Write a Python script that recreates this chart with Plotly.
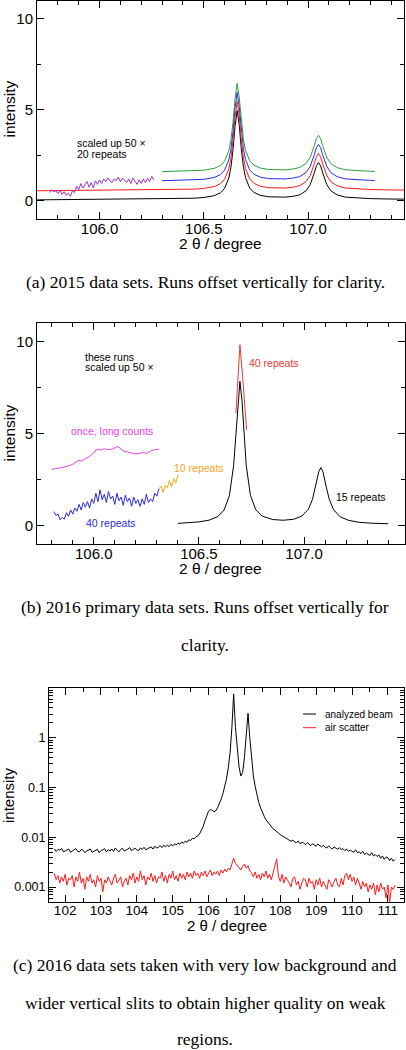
import plotly.graph_objects as go

# ---------------- panel (a): 2015 data sets ----------------
x_a = [105.70, 106.00, 106.30, 106.40, 106.45, 106.50, 106.55, 106.58, 106.60, 106.62,
       106.63, 106.64, 106.65, 106.66, 106.67, 106.68, 106.69, 106.70, 106.72, 106.74,
       106.77, 106.81, 106.85, 106.89, 106.93, 106.96, 106.99, 107.01, 107.03, 107.04,
       107.05, 107.06, 107.07, 107.09, 107.11, 107.14, 107.18, 107.24, 107.30, 107.38, 107.46]
black_a = [0.05, 0.08, 0.10, 0.12, 0.14, 0.18, 0.28, 0.44, 0.69, 1.26,
           1.84, 2.80, 4.14, 4.95, 4.15, 2.81, 1.85, 1.27, 0.70, 0.46,
           0.30, 0.22, 0.20, 0.20, 0.25, 0.33, 0.55, 0.88, 1.54, 1.92,
           2.10, 1.92, 1.53, 0.88, 0.54, 0.32, 0.20, 0.14, 0.12, 0.10, 0.09]
red_a = [0.55, 0.58, 0.60, 0.62, 0.64, 0.68, 0.78, 0.94, 1.19, 1.76,
         2.34, 3.30, 4.64, 5.45, 4.65, 3.31, 2.35, 1.77, 1.20, 0.96,
         0.80, 0.72, 0.70, 0.70, 0.75, 0.83, 1.05, 1.38, 2.04, 2.42,
         2.60, 2.42, 2.03, 1.38, 1.04, 0.82, 0.70, 0.64, 0.62, 0.60, 0.59]
x_a_short = [106.30, 106.40, 106.45, 106.50, 106.55, 106.58, 106.60, 106.62, 106.63, 106.64,
             106.65, 106.66, 106.67, 106.68, 106.69, 106.70, 106.72, 106.74, 106.77, 106.81,
             106.85, 106.89, 106.93, 106.96, 106.99, 107.01, 107.03, 107.04, 107.05, 107.06,
             107.07, 107.09, 107.11, 107.14, 107.18, 107.24, 107.30, 107.32]
blue_a = [1.10, 1.12, 1.14, 1.18, 1.28, 1.44, 1.69, 2.26, 2.84, 3.80,
          5.14, 5.95, 5.15, 3.81, 2.85, 2.27, 1.70, 1.46, 1.30, 1.22,
          1.20, 1.20, 1.25, 1.33, 1.55, 1.88, 2.54, 2.92, 3.10, 2.92,
          2.53, 1.88, 1.54, 1.32, 1.20, 1.14, 1.12, 1.11]
green_a = [1.60, 1.62, 1.64, 1.68, 1.78, 1.94, 2.19, 2.76, 3.34, 4.30,
           5.64, 6.45, 5.65, 4.31, 3.35, 2.77, 2.20, 1.96, 1.80, 1.72,
           1.70, 1.70, 1.75, 1.83, 2.05, 2.38, 3.04, 3.42, 3.60, 3.42,
           3.03, 2.38, 2.04, 1.82, 1.70, 1.64, 1.62, 1.61]
x_a_weak = [105.76, 105.77, 105.78, 105.79, 105.80, 105.81, 105.82, 105.83, 105.84, 105.85,
            105.86, 105.87, 105.88, 105.89, 105.90, 105.91, 105.92, 105.93, 105.94, 105.95,
            105.96, 105.97, 105.98, 105.99, 106.00, 106.01, 106.02, 106.03, 106.04, 106.05,
            106.06, 106.07, 106.08, 106.09, 106.10, 106.11, 106.12, 106.13, 106.14, 106.15,
            106.16, 106.17, 106.18, 106.19, 106.20, 106.21, 106.22, 106.23, 106.24, 106.25, 106.26]
purple_a = [0.45, 0.60, 0.50, 0.55, 0.40, 0.58, 0.35, 0.50, 0.30, 0.42,
            0.25, 0.55, 0.45, 0.80, 0.60, 0.95, 0.70, 0.85, 1.05, 0.75,
            1.00, 0.70, 1.10, 0.90, 1.15, 0.95, 1.20, 1.05, 1.25, 1.10,
            1.00, 1.20, 1.10, 1.30, 1.05, 1.25, 1.15, 1.00, 1.20, 0.95,
            1.25, 1.05, 0.90, 1.15, 0.95, 1.20, 1.00, 1.25, 1.05, 1.35, 1.15]

# ---------------- panel (b): 2016 primary data sets ----------------
x_b_black = [106.40, 106.45, 106.50, 106.55, 106.59, 106.62, 106.645, 106.665, 106.675, 106.685,
             106.695, 106.705, 106.715, 106.725, 106.745, 106.77, 106.80, 106.85, 106.90, 106.95,
             106.99, 107.02, 107.04, 107.055, 107.07, 107.08, 107.09, 107.105, 107.12, 107.14,
             107.17, 107.21, 107.26, 107.32, 107.40]
black_b = [0.12, 0.15, 0.20, 0.30, 0.49, 0.85, 1.63, 3.26, 4.81, 6.76,
           7.83, 6.77, 4.82, 3.27, 1.64, 0.87, 0.52, 0.33, 0.29, 0.34,
           0.52, 0.88, 1.42, 2.12, 2.92, 3.15, 2.92, 2.12, 1.42, 0.87,
           0.49, 0.29, 0.18, 0.13, 0.10]
x_b_red = [106.676, 106.685, 106.695, 106.705, 106.715, 106.727]
red_b = [6.10, 8.00, 9.82, 8.50, 7.00, 5.20]
x_b_magenta = [105.80, 105.82, 105.84, 105.86, 105.88, 105.90, 105.92, 105.93, 105.94, 105.96,
               105.98, 106.00, 106.01, 106.02, 106.03, 106.05, 106.07, 106.09, 106.11, 106.12,
               106.14, 106.16, 106.18, 106.20, 106.22, 106.24, 106.25, 106.27, 106.29, 106.31]
magenta_b = [3.05, 3.08, 3.12, 3.18, 3.24, 3.33, 3.48, 3.55, 3.50, 3.62,
             3.75, 3.95, 4.10, 4.15, 4.10, 4.17, 4.12, 4.16, 4.28, 4.25,
             4.05, 4.00, 3.92, 3.88, 3.93, 3.98, 3.90, 4.05, 4.12, 4.15]
x_b_blue = [105.81, 105.82, 105.83, 105.84, 105.85, 105.86, 105.87, 105.88, 105.89, 105.90,
            105.91, 105.92, 105.93, 105.94, 105.95, 105.96, 105.97, 105.98, 105.99, 106.00,
            106.01, 106.02, 106.03, 106.04, 106.05, 106.06, 106.07, 106.08, 106.09, 106.10,
            106.11, 106.12, 106.13, 106.14, 106.15, 106.16, 106.17, 106.18, 106.19, 106.20,
            106.21, 106.22, 106.23, 106.24, 106.25, 106.26, 106.27, 106.28, 106.29, 106.30, 106.31]
blue_b = [0.76, 0.55, 0.62, 0.31, 0.45, 0.35, 0.70, 0.50, 0.85, 0.62,
          0.95, 0.78, 1.15, 0.85, 1.25, 1.00, 1.30, 0.95, 1.45, 1.20,
          1.75, 1.30, 1.94, 1.40, 1.70, 1.25, 1.85, 1.45, 1.60, 1.15,
          1.75, 1.35, 1.55, 1.10, 1.65, 1.30, 1.50, 1.05, 1.55, 1.20,
          1.40, 1.05, 1.45, 1.15, 1.70, 1.25, 1.45, 1.30, 1.75, 1.60, 2.00]
x_b_orange = [106.31, 106.32, 106.33, 106.34, 106.35, 106.36, 106.37, 106.38, 106.39, 106.40]
orange_b = [2.00, 2.15, 1.80, 2.20, 2.05, 2.45, 2.10, 2.55, 2.30, 2.75]

# ---------------- panel (c): low background, wide slits ----------------
x_c = [101.70, 101.75, 101.80, 101.85, 101.90, 101.95, 102.00, 102.05, 102.10, 102.15,
       102.20, 102.25, 102.30, 102.35, 102.40, 102.45, 102.50, 102.55, 102.60, 102.65,
       102.70, 102.75, 102.80, 102.85, 102.90, 102.95, 103.00, 103.05, 103.10, 103.15,
       103.20, 103.25, 103.30, 103.35, 103.40, 103.45, 103.50, 103.55, 103.60, 103.65,
       103.70, 103.75, 103.80, 103.85, 103.90, 103.95, 104.00, 104.05, 104.10, 104.15,
       104.20, 104.25, 104.30, 104.35, 104.40, 104.45, 104.50, 104.55, 104.60, 104.65,
       104.70, 104.75, 104.80, 104.85, 104.90, 104.95, 105.00, 105.05, 105.10, 105.15,
       105.20, 105.25, 105.30, 105.35, 105.40, 105.45, 105.50, 105.55, 105.60, 105.65,
       105.70, 105.75, 105.80, 105.85, 105.90, 105.95, 106.00, 106.05, 106.10, 106.15,
       106.20, 106.25, 106.30, 106.35, 106.40, 106.45, 106.50, 106.55, 106.60, 106.65,
       106.70, 106.75, 106.80, 106.85, 106.90, 106.95, 107.00, 107.05, 107.10, 107.15,
       107.20, 107.25, 107.30, 107.35, 107.40, 107.45, 107.50, 107.55, 107.60, 107.65,
       107.70, 107.75, 107.80, 107.85, 107.90, 107.95, 108.00, 108.05, 108.10, 108.15,
       108.20, 108.25, 108.30, 108.35, 108.40, 108.45, 108.50, 108.55, 108.60, 108.65,
       108.70, 108.75, 108.80, 108.85, 108.90, 108.95, 109.00, 109.05, 109.10, 109.15,
       109.20, 109.25, 109.30, 109.35, 109.40, 109.45, 109.50, 109.55, 109.60, 109.65,
       109.70, 109.75, 109.80, 109.85, 109.90, 109.95, 110.00, 110.05, 110.10, 110.15,
       110.20, 110.25, 110.30, 110.35, 110.40, 110.45, 110.50, 110.55, 110.60, 110.65,
       110.70, 110.75, 110.80, 110.85, 110.90, 110.95, 111.00, 111.05, 111.10, 111.15,
       111.20]
analyzed_c = [0.0058, 0.0052, 0.0057, 0.0055, 0.0060, 0.0051, 0.0053, 0.0056, 0.0058, 0.0050,
              0.0054, 0.0056, 0.0059, 0.0052, 0.0051, 0.0057, 0.0055, 0.0049, 0.0053, 0.0056,
              0.0058, 0.0050, 0.0052, 0.0055, 0.0057, 0.0049, 0.0054, 0.0056, 0.0059, 0.0051,
              0.0056, 0.0053, 0.0058, 0.0052, 0.0061, 0.0055, 0.0051, 0.0057, 0.0060, 0.0053,
              0.0055, 0.0058, 0.0062, 0.0054, 0.0057, 0.0060, 0.0056, 0.0054, 0.0061, 0.0057,
              0.0063, 0.0056, 0.0059, 0.0062, 0.0064, 0.0058, 0.0066, 0.0061, 0.0063, 0.0068,
              0.0062, 0.0069, 0.0064, 0.0070, 0.0065, 0.0072, 0.0067, 0.0074, 0.0070, 0.0077,
              0.0072, 0.0080, 0.0076, 0.0084, 0.0079, 0.0089, 0.0086, 0.0095, 0.0093, 0.0102,
              0.0106, 0.0118, 0.0135, 0.0165, 0.0215, 0.0280, 0.0335, 0.0360, 0.0350, 0.0325,
              0.0340, 0.0390, 0.0470, 0.0580, 0.0750, 0.1000, 0.1500, 0.2500, 0.5000, 1.6000,
              7.6000, 1.6000, 0.5200, 0.2600, 0.1700, 0.2000, 0.4000, 1.3000, 3.1000, 1.0000,
              0.3500, 0.1700, 0.1050, 0.0700, 0.0500, 0.0390, 0.0310, 0.0265, 0.0225, 0.0200,
              0.0178, 0.0163, 0.0148, 0.0140, 0.0128, 0.0121, 0.0113, 0.0108, 0.0100, 0.0098,
              0.0094, 0.0090, 0.0083, 0.0088, 0.0080, 0.0078, 0.0084, 0.0074, 0.0079, 0.0077,
              0.0071, 0.0078, 0.0073, 0.0068, 0.0074, 0.0070, 0.0066, 0.0073, 0.0067, 0.0064,
              0.0069, 0.0063, 0.0061, 0.0067, 0.0062, 0.0058, 0.0064, 0.0060, 0.0057, 0.0062,
              0.0056, 0.0059, 0.0054, 0.0058, 0.0052, 0.0055, 0.0053, 0.0050, 0.0056, 0.0049,
              0.0051, 0.0047, 0.0052, 0.0045, 0.0048, 0.0046, 0.0043, 0.0049, 0.0042, 0.0045,
              0.0041, 0.0044, 0.0038, 0.0042, 0.0036, 0.0040, 0.0039, 0.0034, 0.0038, 0.0033,
              0.0036]
air_c = [0.0019, 0.0014, 0.0017, 0.0012, 0.0016, 0.0013, 0.0018, 0.0011, 0.0015, 0.0014,
         0.0017, 0.0010, 0.0016, 0.0013, 0.0020, 0.0012, 0.0015, 0.0009, 0.0016, 0.0013,
         0.0018, 0.0012, 0.0014, 0.0010, 0.0017, 0.0013, 0.0015, 0.0008, 0.0014, 0.0012,
         0.0016, 0.0013, 0.0011, 0.0015, 0.0018, 0.0012, 0.0014, 0.0016, 0.0010, 0.0013,
         0.0015, 0.0011, 0.0017, 0.0014, 0.0019, 0.0012, 0.0016, 0.0013, 0.0021, 0.0014,
         0.0017, 0.0011, 0.0016, 0.0014, 0.0019, 0.0013, 0.0017, 0.0012, 0.0016, 0.0015,
         0.0020, 0.0013, 0.0017, 0.0012, 0.0018, 0.0015, 0.0021, 0.0014, 0.0017, 0.0013,
         0.0019, 0.0015, 0.0018, 0.0014, 0.0020, 0.0016, 0.0019, 0.0015, 0.0021, 0.0017,
         0.0019, 0.0015, 0.0020, 0.0017, 0.0021, 0.0016, 0.0019, 0.0022, 0.0017, 0.0020,
         0.0018, 0.0021, 0.0017, 0.0022, 0.0019, 0.0023, 0.0020, 0.0024, 0.0022, 0.0028,
         0.0038, 0.0030, 0.0027, 0.0024, 0.0022, 0.0026, 0.0029, 0.0024, 0.0027, 0.0021,
         0.0019, 0.0016, 0.0020, 0.0015, 0.0018, 0.0014, 0.0019, 0.0016, 0.0021, 0.0015,
         0.0018, 0.0014, 0.0019, 0.0024, 0.0037, 0.0016, 0.0013, 0.0018, 0.0012, 0.0016,
         0.0014, 0.0012, 0.0010, 0.0015, 0.0016, 0.0011, 0.0013, 0.0009, 0.0012, 0.0015,
         0.0014, 0.0010, 0.0015, 0.0012, 0.0013, 0.0009, 0.0014, 0.0011, 0.0015, 0.0010,
         0.0013, 0.0011, 0.0009, 0.0014, 0.0012, 0.0010, 0.0013, 0.0015, 0.0011, 0.0010,
         0.0015, 0.0011, 0.0017, 0.0019, 0.0014, 0.0018, 0.0013, 0.0016, 0.0011, 0.0015,
         0.0012, 0.0009, 0.0013, 0.0010, 0.0012, 0.0008, 0.0011, 0.0009, 0.0012, 0.0007,
         0.0011, 0.0008, 0.0012, 0.0009, 0.0010, 0.0006, 0.0011, 0.0005, 0.0010, 0.0009,
         0.0011]

W, H = 406, 1050
SANS = "Liberation Sans, Arial, sans-serif"
SERIF = "Liberation Serif, Times New Roman, serif"

fig = go.Figure()

def line(x, y, color, axes, name=None, width=1.0):
    fig.add_trace(go.Scatter(x=x, y=y, mode="lines", name=name, showlegend=False,
                             line=dict(color=color, width=width),
                             xaxis=axes[0], yaxis=axes[1]))

# panel (a)
line(x_a, black_a, "black", ("x", "y"))
line(x_a, red_a, "#ff1a1a", ("x", "y"))
line(x_a_short, blue_a, "#2a2ae8", ("x", "y"))
line(x_a_short, green_a, "#2e9e3a", ("x", "y"))
line(x_a_weak, purple_a, "#9b35cc", ("x", "y"))
# panel (b)
line(x_b_black, black_b, "black", ("x2", "y2"))
line(x_b_red, red_b, "#ee3a3a", ("x2", "y2"))
line(x_b_magenta, magenta_b, "#ee40ee", ("x2", "y2"))
line(x_b_blue, blue_b, "#2a2ae0", ("x2", "y2"))
line(x_b_orange, orange_b, "#f5a623", ("x2", "y2"))
# panel (c)
line(x_c, air_c, "#ff1a1a", ("x3", "y3"), name="air scatter")
line(x_c, analyzed_c, "black", ("x3", "y3"), name="analyzed beam")

def px_dom(a, b):
    return [a / W, b / W]

def py_dom(top, bottom):
    return [1 - bottom / H, 1 - top / H]

def axis_common(size=15):
    return dict(showline=True, linecolor="black", linewidth=1, mirror="ticks",
                ticks="inside", ticklen=7, tickwidth=1, tickcolor="black",
                showgrid=False, zeroline=False,
                tickfont=dict(family=SANS, size=size, color="black"))

minor_lin = lambda d: dict(ticks="inside", ticklen=4, tickcolor="black", dtick=d, showgrid=False)

fig.update_layout(
    width=W, height=H, autosize=False,
    margin=dict(l=0, r=0, t=0, b=0),
    paper_bgcolor="white", plot_bgcolor="white",
    showlegend=False,
    xaxis=dict(**axis_common(), domain=px_dom(37, 404), range=[105.70, 107.46],
               dtick=0.5, tick0=106.0, tickformat=".1f", minor=minor_lin(0.1), anchor="y"),
    yaxis=dict(**axis_common(), domain=py_dom(0.5, 219), range=[-1, 11],
               dtick=5, tick0=0, minor=minor_lin(2.5), anchor="x"),
    xaxis2=dict(**axis_common(), domain=px_dom(37, 405), range=[105.73, 107.48],
                dtick=0.5, tick0=106.0, tickformat=".1f", minor=minor_lin(0.1), anchor="y2"),
    yaxis2=dict(**axis_common(), domain=py_dom(323, 544), range=[-1, 11],
                dtick=5, tick0=0, minor=minor_lin(2.5), anchor="x2"),
    xaxis3=dict(**axis_common(13.5), domain=px_dom(49, 404), range=[101.55, 111.45],
                dtick=1, tick0=102, tickformat="d", minor=minor_lin(0.5), anchor="y3"),
    yaxis3=dict(**axis_common(12.5), domain=py_dom(688, 902), type="log",
                range=[-3.301, 1.0],
                tickvals=[0.001, 0.01, 0.1, 1], ticktext=["0.001", "0.01", "0.1", "1"],
                minor=dict(ticks="inside", ticklen=4, tickcolor="black", showgrid=False,
                           tickvals=[0.0006, 0.0007, 0.0008, 0.0009,
                                     0.002, 0.003, 0.004, 0.005, 0.006, 0.007, 0.008, 0.009,
                                     0.02, 0.03, 0.04, 0.05, 0.06, 0.07, 0.08, 0.09,
                                     0.2, 0.3, 0.4, 0.5, 0.6, 0.7, 0.8, 0.9,
                                     2, 3, 4, 5, 6, 7, 8, 9]),
                anchor="x3"),
)
# pull x tick labels a little closer to the axis line, as in the reference
for ax in ("xaxis", "xaxis2", "xaxis3"):
    try:
        fig.layout[ax].ticklabelstandoff = -4
    except Exception:
        pass

def ann(text, x, y, color="black", size=10.5, family=SANS, xanchor="left", angle=0):
    fig.add_annotation(text=text, x=x / W, y=1 - y / H, xref="paper", yref="paper",
                       xanchor=xanchor, yanchor="middle", showarrow=False, textangle=angle,
                       font=dict(family=family, size=size, color=color))

# axis titles
ann("intensity", 9, 109.5, size=15.5, xanchor="center", angle=-90)
ann("2 θ / degree", 221, 244, size=15.5, xanchor="center")
ann("intensity", 9, 433.5, size=15.5, xanchor="center", angle=-90)
ann("2 θ / degree", 221, 568, size=15.5, xanchor="center")
ann("intensity", 8, 795, size=15, xanchor="center", angle=-90)
ann("2 θ / degree", 227, 925, size=15, xanchor="center")

# panel (a) notes
ann("scaled up 50 ×", 75, 143)
ann("20 repeats", 75, 153.5)
# panel (b) notes
ann("these runs", 83, 357)
ann("scaled up 50 ×", 83, 367)
ann("40 repeats", 247, 363, color="#ee3a3a")
ann("once, long counts", 69, 431, color="#ee40ee")
ann("10 repeats", 172, 468, color="#f5a623")
ann("40 repeats", 84, 523, color="#2a2ae0")
ann("15 repeats", 334, 497)

# panel (c) legend
for yy, col, lab in [(714, "black", "analyzed beam"), (727.7, "#ff1a1a", "air scatter")]:
    fig.add_shape(type="line", xref="paper", yref="paper",
                  x0=303 / W, x1=316 / W, y0=1 - yy / H, y1=1 - yy / H,
                  line=dict(color=col, width=1))
    ann(lab, 323, yy, size=10)

# captions
CAP = 17.5
ann("(a) 2015 data sets. Runs offset vertically for clarity.", 205, 282, size=CAP, family=SERIF, xanchor="center")
ann("(b) 2016 primary data sets. Runs offset vertically for", 205, 607, size=CAP, family=SERIF, xanchor="center")
ann("clarity.", 205, 645, size=CAP, family=SERIF, xanchor="center")
ann("(c) 2016 data sets taken with very low background and", 205, 965, size=CAP, family=SERIF, xanchor="center")
ann("wider vertical slits to obtain higher quality on weak", 205, 1003, size=CAP, family=SERIF, xanchor="center")
ann("regions.", 205, 1039, size=CAP, family=SERIF, xanchor="center")

fig.write_html("out.html", config={"displayModeBar": False},
               post_script="document.body.style.margin='0';document.body.style.overflow='hidden';")
